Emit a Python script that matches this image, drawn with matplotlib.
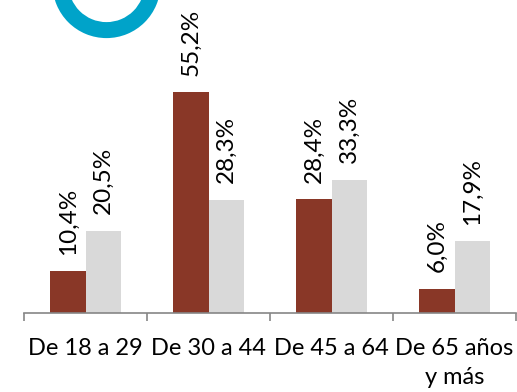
import matplotlib
matplotlib.use("Agg")
from matplotlib import pyplot as plt
from matplotlib.patches import Wedge
import numpy as np

plt.rcParams['font.family'] = ['Lato', 'DejaVu Sans']

# grupos de edad y porcentajes de cada serie
categorias = ["De 18 a 29", "De 30 a 44", "De 45 a 64", "De 65 años\ny más"]
serie_1 = [10.4, 55.2, 28.4, 6.0]
serie_2 = [20.5, 28.3, 33.3, 17.9]

color_1 = "#893727"
color_2 = "#D9D9D9"
eje_gris = "#868686"

fig = plt.figure(figsize=(5.17, 3.92), dpi=100)
ax = fig.add_axes([24 / 517, 79 / 392, 492 / 517, 313 / 392])

x = np.arange(len(categorias)) + 0.5
ancho = 0.285
b1 = ax.bar(x - ancho / 2, serie_1, ancho, color=color_1)
b2 = ax.bar(x + ancho / 2, serie_2, ancho, color=color_2)

# etiquetas de valor en vertical, con coma decimal
for barras, valores in ((b1, serie_1), (b2, serie_2)):
    for b, v in zip(barras, valores):
        ax.annotate(f"{v:.1f}%".replace(".", ","),
                    (b.get_x() + b.get_width() / 2, v),
                    xytext=(0, 12), textcoords="offset points",
                    rotation=90, ha="center", va="bottom", fontsize=17.5)

ax.set_xlim(0, 4)
ax.set_ylim(0, 313 / 4.0)
ax.set_yticks([])
for lado in ("top", "right", "left"):
    ax.spines[lado].set_visible(False)
ax.spines["bottom"].set_color(eje_gris)
ax.spines["bottom"].set_linewidth(1.2)

ax.set_xticks(x)
ax.set_xticklabels(categorias, fontsize=17, linespacing=1.45)
ax.tick_params(axis="x", which="major", length=0, pad=18)
ax.set_xticks(np.arange(0, 5), minor=True)
ax.tick_params(axis="x", which="minor", length=6, width=1.2, color=eje_gris)

# aro decorativo arriba a la izquierda
aro = Wedge((1.065, 4.079), 0.54, 0, 360, width=0.16,
            facecolor="#00A3C9", edgecolor="none",
            transform=fig.dpi_scale_trans)
fig.add_artist(aro)

fig.savefig("out.png", dpi=100)
